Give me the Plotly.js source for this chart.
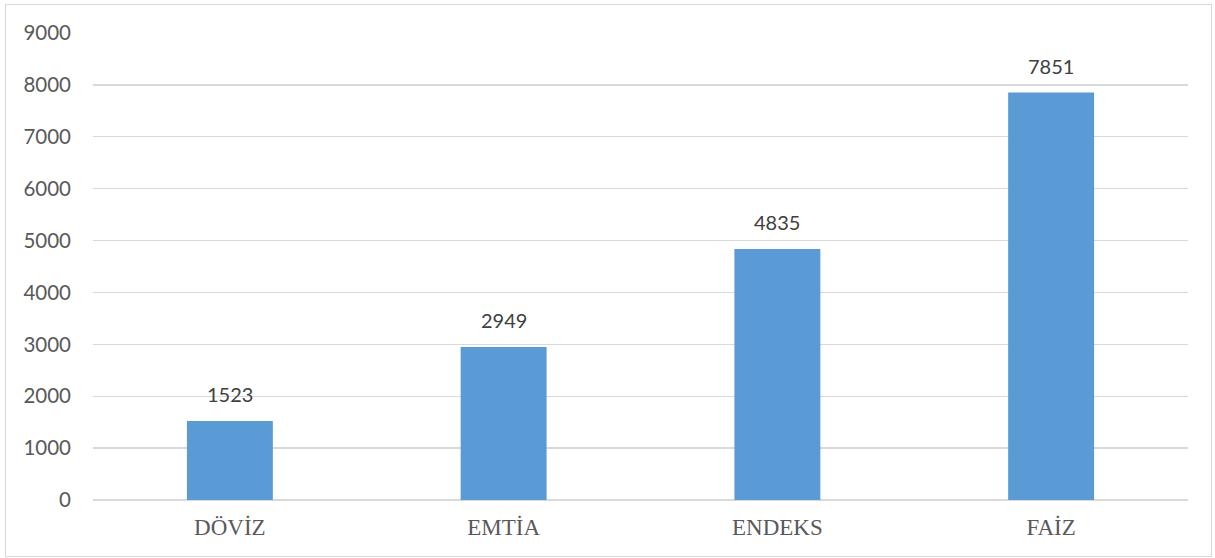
<!DOCTYPE html>
<html><head><meta charset="utf-8">
<script src="https://cdn.plot.ly/plotly-3.0.1.min.js"></script>
<style>
html,body{margin:0;padding:0;background:#fff;}
#wrap{position:relative;width:1215px;height:558px;}
#chart{width:1215px;height:558px;}
#frame{position:absolute;left:5px;top:4px;width:1205px;height:551px;border:1px solid #d9d9d9;pointer-events:none;}
</style></head>
<body>
<div id="wrap"><div id="chart"></div><div id="frame"></div></div>
<script>
const categories = ["DÖVİZ", "EMTİA", "ENDEKS", "FAİZ"];
const values = [1523, 2949, 4835, 7851];
const yTicks = [0, 1000, 2000, 3000, 4000, 5000, 6000, 7000, 8000, 9000];

const trace = {
  type: "bar",
  x: categories,
  y: values,
  marker: {color: "#5B9BD5"},
  hoverinfo: "x+y"
};

const annotations = categories.map((c, i) => ({
  x: c, y: values[i], xref: "x", yref: "y",
  text: String(values[i]),
  showarrow: false, yanchor: "bottom", yshift: 13,
  font: {family: "Lato, 'Open Sans', sans-serif", size: 20, color: "#404040"}
}));

const layout = {
  width: 1215, height: 558,
  margin: {l: 93, r: 27, t: 33, b: 58},
  paper_bgcolor: "#fff", plot_bgcolor: "#fff",
  bargap: 0.686,
  showlegend: false,
  xaxis: {
    type: "category",
    showgrid: false, zeroline: false, showline: false,
    ticks: "", ticklabelstandoff: 11,
    tickfont: {family: "'Liberation Serif', 'Times New Roman', serif", size: 23, color: "#595959"}
  },
  yaxis: {
    range: [0, 9000],
    tickvals: yTicks,
    ticktext: yTicks.map(String),
    showgrid: true, gridcolor: "#d9d9d9", gridwidth: 1.3,
    zeroline: true, zerolinecolor: "#d9d9d9", zerolinewidth: 1.3,
    showline: false, ticks: "", ticklabelstandoff: 21,
    tickfont: {family: "Lato, 'Open Sans', sans-serif", size: 20.5, color: "#595959"}
  },
  annotations: annotations
};

Plotly.newPlot("chart", [trace], layout, {displayModeBar: false, staticPlot: true});
</script>
</body></html>
